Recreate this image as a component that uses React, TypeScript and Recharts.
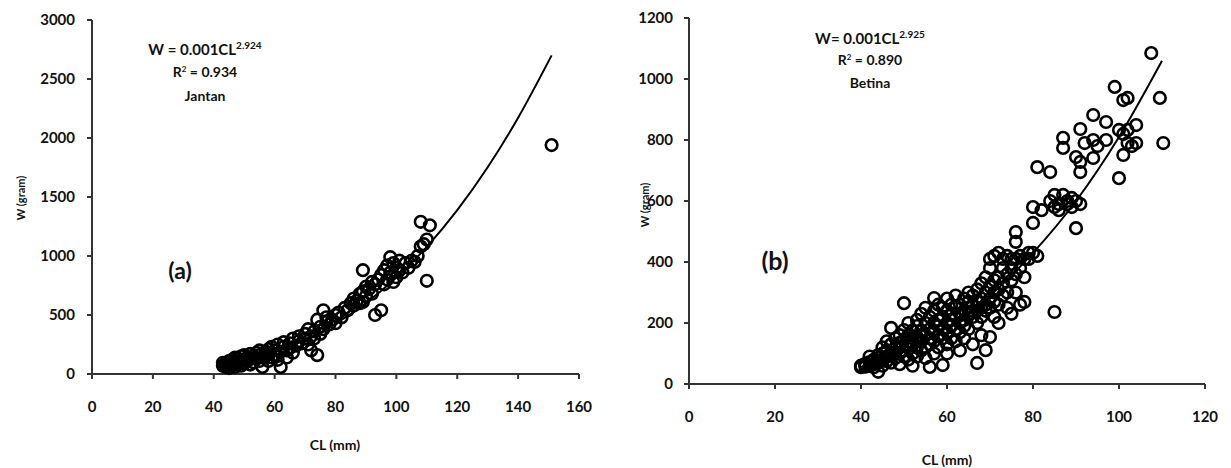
import { ScatterChart, Scatter, XAxis, YAxis } from 'recharts';

// (a) Jantan — males, CL in mm, W in grams
const jantan = [
  { cl: 43, w: 70 }, { cl: 43, w: 95 }, { cl: 44, w: 90 }, { cl: 44, w: 60 }, { cl: 45, w: 110 },
  { cl: 45, w: 80 }, { cl: 45, w: 50 }, { cl: 46, w: 70 }, { cl: 46, w: 120 }, { cl: 47, w: 100 },
  { cl: 47, w: 140 }, { cl: 47, w: 60 }, { cl: 48, w: 90 }, { cl: 48, w: 130 }, { cl: 49, w: 110 },
  { cl: 49, w: 150 }, { cl: 49, w: 70 }, { cl: 50, w: 120 }, { cl: 50, w: 160 }, { cl: 50, w: 90 },
  { cl: 51, w: 140 }, { cl: 51, w: 110 }, { cl: 52, w: 170 }, { cl: 52, w: 130 }, { cl: 52, w: 80 },
  { cl: 53, w: 150 }, { cl: 53, w: 100 }, { cl: 54, w: 180 }, { cl: 54, w: 130 }, { cl: 55, w: 160 },
  { cl: 55, w: 200 }, { cl: 55, w: 110 }, { cl: 56, w: 140 }, { cl: 56, w: 60 }, { cl: 57, w: 190 },
  { cl: 57, w: 150 }, { cl: 58, w: 170 }, { cl: 58, w: 210 }, { cl: 58, w: 110 }, { cl: 59, w: 140 },
  { cl: 59, w: 230 }, { cl: 60, w: 200 }, { cl: 60, w: 160 }, { cl: 61, w: 250 }, { cl: 61, w: 120 },
  { cl: 62, w: 190 }, { cl: 62, w: 60 }, { cl: 63, w: 230 }, { cl: 63, w: 270 }, { cl: 64, w: 200 },
  { cl: 64, w: 140 }, { cl: 65, w: 260 }, { cl: 65, w: 220 }, { cl: 66, w: 300 }, { cl: 66, w: 180 },
  { cl: 67, w: 240 }, { cl: 68, w: 280 }, { cl: 68, w: 320 }, { cl: 69, w: 260 }, { cl: 70, w: 340 },
  { cl: 70, w: 300 }, { cl: 71, w: 250 }, { cl: 71, w: 380 }, { cl: 72, w: 320 }, { cl: 72, w: 200 },
  { cl: 73, w: 360 }, { cl: 73, w: 300 }, { cl: 74, w: 460 }, { cl: 74, w: 160 }, { cl: 75, w: 400 },
  { cl: 75, w: 340 }, { cl: 76, w: 540 }, { cl: 76, w: 380 }, { cl: 77, w: 440 }, { cl: 77, w: 480 },
  { cl: 78, w: 420 }, { cl: 79, w: 460 }, { cl: 80, w: 500 }, { cl: 80, w: 430 }, { cl: 81, w: 520 },
  { cl: 82, w: 480 }, { cl: 83, w: 560 }, { cl: 84, w: 540 }, { cl: 85, w: 600 }, { cl: 86, w: 580 },
  { cl: 86, w: 640 }, { cl: 87, w: 620 }, { cl: 88, w: 680 }, { cl: 88, w: 600 }, { cl: 89, w: 880 },
  { cl: 89, w: 700 }, { cl: 89, w: 610 }, { cl: 90, w: 660 }, { cl: 90, w: 740 }, { cl: 91, w: 720 },
  { cl: 92, w: 780 }, { cl: 92, w: 680 }, { cl: 93, w: 500 }, { cl: 93, w: 760 }, { cl: 94, w: 800 },
  { cl: 95, w: 540 }, { cl: 95, w: 840 }, { cl: 96, w: 760 }, { cl: 96, w: 880 }, { cl: 97, w: 800 },
  { cl: 97, w: 920 }, { cl: 98, w: 990 }, { cl: 98, w: 860 }, { cl: 99, w: 780 }, { cl: 99, w: 940 },
  { cl: 100, w: 900 }, { cl: 100, w: 820 }, { cl: 101, w: 960 }, { cl: 101, w: 880 }, { cl: 102, w: 860 },
  { cl: 103, w: 940 }, { cl: 104, w: 900 }, { cl: 105, w: 960 }, { cl: 106, w: 950 }, { cl: 107, w: 1000 },
  { cl: 108, w: 1080 }, { cl: 108, w: 1290 }, { cl: 109, w: 1100 }, { cl: 110, w: 790 }, { cl: 110, w: 1140 },
  { cl: 111, w: 1260 }, { cl: 151, w: 1940 },
];

// power-curve trend (a)
const jantanTrend = [
  { cl: 43, w: 71 }, { cl: 50, w: 108 }, { cl: 60, w: 183 }, { cl: 70, w: 288 }, { cl: 80, w: 426 },
  { cl: 90, w: 601 }, { cl: 100, w: 817 }, { cl: 110, w: 1078 }, { cl: 120, w: 1389 }, { cl: 130, w: 1752 },
  { cl: 140, w: 2172 }, { cl: 151, w: 2700 },
];

// (b) Betina — females
const betina = [
  { cl: 40, w: 58 }, { cl: 40, w: 60 }, { cl: 40, w: 55 }, { cl: 41, w: 62 }, { cl: 41, w: 66 },
  { cl: 41, w: 57 }, { cl: 42, w: 60 }, { cl: 42, w: 72 }, { cl: 42, w: 90 }, { cl: 43, w: 65 },
  { cl: 43, w: 80 }, { cl: 43, w: 55 }, { cl: 44, w: 40 }, { cl: 44, w: 70 }, { cl: 44, w: 95 },
  { cl: 44, w: 85 }, { cl: 45, w: 60 }, { cl: 45, w: 100 }, { cl: 45, w: 80 }, { cl: 45, w: 120 },
  { cl: 46, w: 75 }, { cl: 46, w: 110 }, { cl: 46, w: 90 }, { cl: 46, w: 140 }, { cl: 47, w: 184 },
  { cl: 47, w: 95 }, { cl: 47, w: 130 }, { cl: 47, w: 70 }, { cl: 48, w: 85 }, { cl: 48, w: 120 },
  { cl: 48, w: 150 }, { cl: 48, w: 105 }, { cl: 49, w: 100 }, { cl: 49, w: 135 }, { cl: 49, w: 160 },
  { cl: 49, w: 65 }, { cl: 49, w: 120 }, { cl: 50, w: 177 }, { cl: 50, w: 110 }, { cl: 50, w: 145 },
  { cl: 50, w: 90 }, { cl: 50, w: 265 }, { cl: 51, w: 125 }, { cl: 51, w: 160 }, { cl: 51, w: 80 },
  { cl: 51, w: 200 }, { cl: 51, w: 140 }, { cl: 52, w: 100 }, { cl: 52, w: 150 }, { cl: 52, w: 175 },
  { cl: 52, w: 130 }, { cl: 52, w: 60 }, { cl: 53, w: 120 }, { cl: 53, w: 190 }, { cl: 53, w: 155 },
  { cl: 53, w: 210 }, { cl: 53, w: 90 }, { cl: 54, w: 140 }, { cl: 54, w: 175 }, { cl: 54, w: 110 },
  { cl: 54, w: 230 }, { cl: 54, w: 160 }, { cl: 55, w: 120 }, { cl: 55, w: 200 }, { cl: 55, w: 160 },
  { cl: 55, w: 85 }, { cl: 55, w: 250 }, { cl: 56, w: 150 }, { cl: 56, w: 180 }, { cl: 56, w: 220 },
  { cl: 56, w: 130 }, { cl: 56, w: 56 }, { cl: 57, w: 282 }, { cl: 57, w: 170 }, { cl: 57, w: 200 },
  { cl: 57, w: 140 }, { cl: 57, w: 240 }, { cl: 57, w: 100 }, { cl: 58, w: 160 }, { cl: 58, w: 210 },
  { cl: 58, w: 120 }, { cl: 58, w: 260 }, { cl: 58, w: 190 }, { cl: 59, w: 62 }, { cl: 59, w: 180 },
  { cl: 59, w: 220 }, { cl: 59, w: 150 }, { cl: 59, w: 250 }, { cl: 60, w: 200 }, { cl: 60, w: 170 },
  { cl: 60, w: 240 }, { cl: 60, w: 130 }, { cl: 60, w: 280 }, { cl: 60, w: 100 }, { cl: 61, w: 190 },
  { cl: 61, w: 230 }, { cl: 61, w: 260 }, { cl: 61, w: 150 }, { cl: 61, w: 210 }, { cl: 62, w: 220 },
  { cl: 62, w: 180 }, { cl: 62, w: 250 }, { cl: 62, w: 140 }, { cl: 62, w: 290 }, { cl: 63, w: 200 },
  { cl: 63, w: 260 }, { cl: 63, w: 230 }, { cl: 63, w: 170 }, { cl: 63, w: 110 }, { cl: 64, w: 240 },
  { cl: 64, w: 280 }, { cl: 64, w: 210 }, { cl: 64, w: 190 }, { cl: 64, w: 150 }, { cl: 65, w: 230 },
  { cl: 65, w: 270 }, { cl: 65, w: 250 }, { cl: 65, w: 180 }, { cl: 65, w: 300 }, { cl: 66, w: 260 },
  { cl: 66, w: 220 }, { cl: 66, w: 290 }, { cl: 66, w: 130 }, { cl: 66, w: 240 }, { cl: 67, w: 69 },
  { cl: 67, w: 270 }, { cl: 67, w: 240 }, { cl: 67, w: 310 }, { cl: 67, w: 200 }, { cl: 68, w: 280 },
  { cl: 68, w: 250 }, { cl: 68, w: 330 }, { cl: 68, w: 220 }, { cl: 68, w: 160 }, { cl: 69, w: 111 },
  { cl: 69, w: 300 }, { cl: 69, w: 260 }, { cl: 69, w: 350 }, { cl: 69, w: 240 }, { cl: 70, w: 154 },
  { cl: 70, w: 320 }, { cl: 70, w: 280 }, { cl: 70, w: 380 }, { cl: 70, w: 410 }, { cl: 70, w: 250 },
  { cl: 71, w: 300 }, { cl: 71, w: 340 }, { cl: 71, w: 420 }, { cl: 71, w: 270 }, { cl: 71, w: 220 },
  { cl: 72, w: 350 }, { cl: 72, w: 310 }, { cl: 72, w: 430 }, { cl: 72, w: 260 }, { cl: 72, w: 200 },
  { cl: 73, w: 330 }, { cl: 73, w: 380 }, { cl: 73, w: 410 }, { cl: 73, w: 290 }, { cl: 74, w: 360 },
  { cl: 74, w: 300 }, { cl: 74, w: 420 }, { cl: 74, w: 250 }, { cl: 75, w: 380 }, { cl: 75, w: 340 },
  { cl: 75, w: 410 }, { cl: 75, w: 230 }, { cl: 76, w: 498 }, { cl: 76, w: 466 }, { cl: 76, w: 410 },
  { cl: 76, w: 360 }, { cl: 76, w: 300 }, { cl: 77, w: 420 }, { cl: 77, w: 380 }, { cl: 77, w: 260 },
  { cl: 78, w: 269 }, { cl: 78, w: 410 }, { cl: 78, w: 350 }, { cl: 79, w: 430 }, { cl: 79, w: 410 },
  { cl: 80, w: 528 }, { cl: 80, w: 580 }, { cl: 80, w: 430 }, { cl: 81, w: 711 }, { cl: 81, w: 420 },
  { cl: 82, w: 570 }, { cl: 84, w: 695 }, { cl: 84, w: 600 }, { cl: 85, w: 236 }, { cl: 85, w: 620 },
  { cl: 85, w: 580 }, { cl: 86, w: 590 }, { cl: 86, w: 570 }, { cl: 87, w: 807 }, { cl: 87, w: 774 },
  { cl: 87, w: 620 }, { cl: 88, w: 600 }, { cl: 88, w: 590 }, { cl: 89, w: 580 }, { cl: 89, w: 610 },
  { cl: 90, w: 511 }, { cl: 90, w: 744 }, { cl: 90, w: 600 }, { cl: 91, w: 728 }, { cl: 91, w: 695 },
  { cl: 91, w: 836 }, { cl: 91, w: 590 }, { cl: 92, w: 790 }, { cl: 94, w: 882 }, { cl: 94, w: 800 },
  { cl: 94, w: 741 }, { cl: 95, w: 780 }, { cl: 97, w: 859 }, { cl: 97, w: 800 }, { cl: 99, w: 974 },
  { cl: 100, w: 833 }, { cl: 100, w: 675 }, { cl: 101, w: 751 }, { cl: 101, w: 931 }, { cl: 101, w: 820 },
  { cl: 102, w: 833 }, { cl: 102, w: 790 }, { cl: 102, w: 938 }, { cl: 103, w: 780 }, { cl: 104, w: 849 },
  { cl: 104, w: 790 }, { cl: 107.5, w: 1085 }, { cl: 109.5, w: 938 }, { cl: 110.3, w: 790 },
];

const betinaTrend = [
  { cl: 40, w: 56 }, { cl: 50, w: 108 }, { cl: 60, w: 185 }, { cl: 70, w: 290 }, { cl: 80, w: 430 },
  { cl: 90, w: 600 }, { cl: 100, w: 810 }, { cl: 110, w: 1060 },
];

const ticksXa = [0, 20, 40, 60, 80, 100, 120, 140, 160];
const ticksYa = [0, 500, 1000, 1500, 2000, 2500, 3000];
const ticksXb = [0, 20, 40, 60, 80, 100, 120];
const ticksYb = [0, 200, 400, 600, 800, 1000, 1200];

const FONT = 'Lato, "Open Sans", sans-serif';
const tickStyle = { fill: '#111', fontSize: 15, fontWeight: 700, fontFamily: FONT };
const axisLine = { stroke: '#333', strokeWidth: 2 };

// open ring marker
function Ring(props: any) {
  if (props.cx == null || props.cy == null) return <g />;
  return <circle cx={props.cx} cy={props.cy} r={5.8} fill="none" stroke="#000" strokeWidth={2.6} />;
}

function Label({ x, y, size = 14, rotate = false, children }: any) {
  return (
    <div
      style={{
        position: 'absolute',
        left: x,
        top: y,
        transform: `translate(-50%, -50%)${rotate ? ' rotate(-90deg)' : ''}`,
        fontFamily: FONT,
        fontWeight: 700,
        fontSize: size,
        color: '#111',
        whiteSpace: 'nowrap',
        lineHeight: 1,
      }}
    >
      {children}
    </div>
  );
}

export default function App() {
  return (
    <div style={{ position: 'absolute', left: 0, top: 0, width: 1231, height: 468, background: '#fff' }}>
      <div style={{ position: 'absolute', left: 0, top: 0 }}>
        <ScatterChart width={600} height={468} margin={{ top: 20, right: 21, bottom: 64, left: 0 }}>
          <XAxis
            type="number"
            dataKey="cl"
            domain={[0, 160]}
            ticks={ticksXa}
            height={30}
            axisLine={axisLine}
            tickLine={axisLine}
            tickSize={5}
            tickMargin={22}
            tick={tickStyle}
          />
          <YAxis
            type="number"
            dataKey="w"
            domain={[0, 3000]}
            ticks={ticksYa}
            width={92}
            axisLine={axisLine}
            tickLine={axisLine}
            tickSize={5}
            tickMargin={12}
            tick={tickStyle}
          />
          <Scatter data={jantan} shape={Ring} isAnimationActive={false} />
          <Scatter
            data={jantanTrend}
            shape={() => <g />}
            line={{ stroke: '#000', strokeWidth: 2 }}
            lineJointType="monotoneX"
            isAnimationActive={false}
          />
        </ScatterChart>
      </div>
      <div style={{ position: 'absolute', left: 600, top: 0 }}>
        <ScatterChart width={631} height={468} margin={{ top: 18, right: 26, bottom: 54, left: 0 }}>
          <XAxis
            type="number"
            dataKey="cl"
            domain={[0, 120]}
            ticks={ticksXb}
            height={30}
            axisLine={axisLine}
            tickLine={axisLine}
            tickSize={5}
            tickMargin={22}
            tick={tickStyle}
          />
          <YAxis
            type="number"
            dataKey="w"
            domain={[0, 1200]}
            ticks={ticksYb}
            width={89}
            axisLine={axisLine}
            tickLine={axisLine}
            tickSize={5}
            tickMargin={11}
            tick={tickStyle}
          />
          <Scatter data={betina} shape={Ring} isAnimationActive={false} />
          <Scatter
            data={betinaTrend}
            shape={() => <g />}
            line={{ stroke: '#000', strokeWidth: 2 }}
            lineJointType="monotoneX"
            isAnimationActive={false}
          />
        </ScatterChart>
      </div>

      <Label x={205} y={48} size={15}>
        W = 0.001CL<sup style={{ fontSize: 10 }}>2.924</sup>
      </Label>
      <Label x={205} y={72}>
        R<sup style={{ fontSize: 8 }}>2</sup> = 0.934
      </Label>
      <Label x={205} y={96}>Jantan</Label>
      <Label x={180} y={270} size={23}>(a)</Label>

      <Label x={870} y={37} size={15}>
        W= 0.001CL<sup style={{ fontSize: 10 }}>2.925</sup>
      </Label>
      <Label x={870} y={60}>
        R<sup style={{ fontSize: 8 }}>2</sup> = 0.890
      </Label>
      <Label x={870} y={83}>Betina</Label>
      <Label x={775} y={260} size={25}>(b)</Label>

      <Label x={20} y={198} size={11} rotate>W (gram)</Label>
      <Label x={644} y={205} size={11} rotate>W (gram)</Label>
      <Label x={335} y={445} size={14}>CL (mm)</Label>
      <Label x={947} y={460} size={14}>CL (mm)</Label>
    </div>
  );
}
